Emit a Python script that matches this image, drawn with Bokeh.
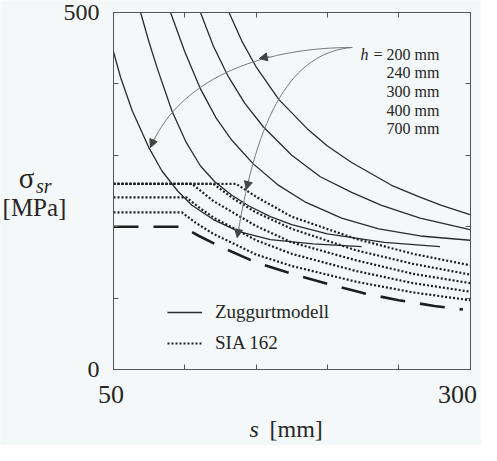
from bokeh.plotting import figure
from bokeh.models import (FixedTicker, LinearAxis, Label, Legend, LegendItem,
                          Arrow, NormalHead, Range1d)
from bokeh.embed import file_html
from bokeh.resources import INLINE

# ---------------- data ----------------
s_zug_200 = [50, 55, 63, 75, 84, 95, 105, 120, 138, 160, 190, 224]
sig_zug_200 = [445, 409, 363, 310, 278, 250, 230, 210, 193, 182, 176, 172]
s_zug_240 = [69, 75, 81, 91, 101, 111, 121, 133, 145, 160, 175, 200, 240, 279]
sig_zug_240 = [500, 458, 420, 362, 318, 285, 263, 244, 229, 214, 203, 190, 178, 172]
s_zug_300 = [90, 100, 111, 122, 133, 148, 165, 185, 210, 236, 265, 300]
sig_zug_300 = [500, 445, 393, 352, 321, 288, 259, 234, 212, 197, 187, 181]
s_zug_400 = [111, 120, 130, 142, 155, 175, 195, 217, 238, 265, 300]
sig_zug_400 = [500, 453, 412, 373, 340, 300, 270, 248, 230, 212, 196]
s_zug_700 = [131, 140, 150, 166, 186, 200, 217, 245, 264, 280, 300]
sig_zug_700 = [500, 460, 424, 378, 337, 313, 290, 258, 242, 230, 217]

s_sia_200 = [50, 98, 108, 120, 150, 175, 220, 260, 300]
sig_sia_200 = [220, 220, 205, 190, 161, 145, 123, 108, 97]
s_sia_240 = [50, 101, 110, 120, 150, 175, 220, 260, 300]
sig_sia_240 = [241, 241, 227, 213, 181, 162, 138, 121, 109]
s_sia_300 = [50, 105, 112, 120, 150, 175, 220, 260, 300]
sig_sia_300 = [260, 260, 249, 236, 201, 178, 153, 134, 121]
s_sia_400 = [50, 120, 135, 150, 175, 220, 260, 300]
sig_sia_400 = [260, 260, 238, 220, 197, 167, 148, 133]
s_sia_700 = [50, 136, 150, 175, 220, 260, 300]
sig_sia_700 = [260, 260, 242, 214, 183, 162, 146]

s_lower = [50, 98, 110, 125, 150, 175, 200, 225, 250, 275, 295]
sig_lower = [200, 200, 187, 172, 150, 134, 120, 107, 97, 89, 84]

x_ticks = [50, 100, 150, 200, 250, 300]
y_ticks = [0, 100, 200, 300, 400, 500]
h_labels = ["200 mm", "240 mm", "300 mm", "400 mm", "700 mm"]

# ---------------- style ----------------
BG = "#f4f8f8"
INK = "#2b2b2b"
TXT = "#262626"
FRAME = "#555555"
ARROW = "#7a7a7a"
SERIF = "Liberation Serif"

# The frame spans the whole canvas; the axes are pinned (fixed_location) to the
# edges of the data box 50..300 x 0..500 so that all texts stay inside the frame.
p = figure(width=481, height=445,
           x_range=Range1d(-29.24, 308.06), y_range=Range1d(-106.44, 516.81),
           output_backend="svg", toolbar_location=None,
           min_border_left=0, min_border_right=0, min_border_top=0, min_border_bottom=0,
           background_fill_color=BG, border_fill_color=BG)
p.outline_line_color = None
p.xgrid.visible = False
p.ygrid.visible = False


def style_axis(ax, ticks, loc, bounds, overrides=None, font_size="24px", standoff=14):
    ax.fixed_location = loc
    ax.bounds = bounds
    ax.ticker = FixedTicker(ticks=ticks)
    ax.major_tick_in = 5
    ax.major_tick_out = 0
    ax.minor_tick_line_color = None
    ax.axis_line_color = FRAME
    ax.axis_line_width = 1
    ax.major_tick_line_color = FRAME
    ax.major_label_text_font = SERIF
    ax.major_label_text_color = TXT
    ax.major_label_text_font_size = font_size
    ax.major_label_standoff = standoff
    ax.major_label_overrides = overrides if overrides is not None else {t: "" for t in ticks}


style_axis(p.xaxis[0], x_ticks, 0, (50, 300))
style_axis(p.yaxis[0], y_ticks, 50, (0, 500),
           {t: ("0" if t == 0 else "500" if t == 500 else "") for t in y_ticks})
top_ax = LinearAxis()
style_axis(top_ax, x_ticks, 500, (50, 300), font_size="1px", standoff=0)
p.add_layout(top_ax, "above")
right_ax = LinearAxis()
style_axis(right_ax, y_ticks, 300, (0, 500), font_size="1px", standoff=0)
p.add_layout(right_ax, "right")

# ---------------- curves ----------------
zug = [(s_zug_200, sig_zug_200), (s_zug_240, sig_zug_240), (s_zug_300, sig_zug_300),
       (s_zug_400, sig_zug_400), (s_zug_700, sig_zug_700)]
sia = [(s_sia_200, sig_sia_200), (s_sia_240, sig_sia_240), (s_sia_300, sig_sia_300),
       (s_sia_400, sig_sia_400), (s_sia_700, sig_sia_700)]

zug_r = [p.line(xs, ys, line_color=INK, line_width=1.3) for xs, ys in zug]
sia_r = [p.line(xs, ys, line_color="#1e1e1e", line_width=2.2, line_dash="2 2") for xs, ys in sia]
p.line(s_lower, sig_lower, line_color="#1e1e1e", line_width=2.6, line_dash="25 15")

# ---------------- arrows ----------------
p.bezier(x0=[217.4, 217.4], y0=[451.0, 451.0],
         cx0=[161.3, 175.4], cy0=[451.0, 444.0],
         cx1=[98.3, 150.8], cy1=[416.0, 360.0],
         x1=[75.9, 136.8], y1=[310.9, 184.9],
         line_color=ARROW, line_width=1)
heads = [(159.2, 438.4, 152.2, 435.6), (78.6, 323.8, 75.9, 310.9),
         (145.0, 265.7, 143.1, 252.1), (138.0, 198.7, 136.8, 184.9)]
for xs0, ys0, xe, ye in heads:
    p.add_layout(Arrow(end=NormalHead(size=8, line_color="#444444", fill_color="#444444", line_width=1),
                       x_start=xs0, y_start=ys0, x_end=xe, y_end=ye,
                       line_color=ARROW, line_width=1))


def add_text(x, y, text, size, align="left", style="normal"):
    p.add_layout(Label(x=x, y=y, text=text, text_font=SERIF, text_font_size=size,
                       text_font_style=style, text_color=TXT,
                       text_baseline="alphabetic", text_align=align))


# h labels
add_text(223.2, 441.2, "h", "16px", "left", "italic")
label_y = [441.2, 415.3, 389.4, 363.4, 337.5]
for i, (lab, yy) in enumerate(zip(h_labels, label_y)):
    add_text(278.6, yy, ("= " + lab) if i == 0 else lab, "16px", "right")

# x tick labels
add_text(48.2, -35.0, str(x_ticks[0]), "26px", "center")
add_text(291.2, -35.0, str(x_ticks[-1]), "26px", "center")

# axis titles
add_text(145.4, -84.0, "s", "24px", "left", "italic")
add_text(159.4, -84.0, "[mm]", "24px", "left")
add_text(-11.0, 268.9, "σ", "29px", "center")
add_text(-4.35, 257.7, "sr", "20px", "left", "italic")
add_text(-5.4, 226.9, "[MPa]", "25px", "center")

# ---------------- legend ----------------
legend = Legend(items=[LegendItem(label="Zuggurtmodell", renderers=[zug_r[0]]),
                       LegendItem(label="SIA 162", renderers=[sia_r[0]])],
                location=(167, 91), padding=0, margin=0, spacing=9,
                glyph_width=35, glyph_height=20, label_height=20, label_standoff=13,
                label_text_font=SERIF, label_text_font_size="19px", label_text_color=TXT,
                border_line_color=None, background_fill_alpha=0)
p.add_layout(legend)

open("out.html", "w").write(file_html(p, INLINE))
